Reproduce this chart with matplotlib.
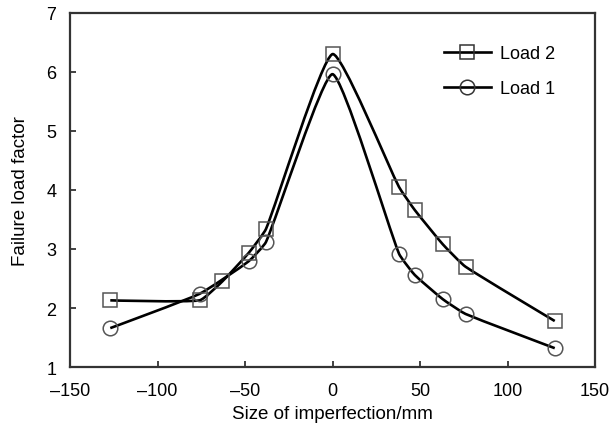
import numpy as np
import matplotlib
matplotlib.use("Agg")
import matplotlib.pyplot as plt
from matplotlib.path import Path
from matplotlib.patches import PathPatch
from matplotlib.lines import Line2D

plt.rcParams['font.family'] = ['Liberation Sans', 'DejaVu Sans']

# данные
x_load2 = [-127, -76, -63, -48, -38, 0, 38, 47, 63, 76, 127]
y_load2 = [2.13, 2.13, 2.45, 2.93, 3.34, 6.30, 4.05, 3.66, 3.08, 2.70, 1.78]

x_load1 = [-127, -76, -48, -38, 0, 38, 47, 63, 76, 127]
y_load1 = [1.66, 2.24, 2.79, 3.12, 5.96, 2.92, 2.56, 2.15, 1.90, 1.32]

xticks = [-150, -100, -50, 0, 50, 100, 150]
yticks = [1, 2, 3, 4, 5, 6, 7]


# сглаженная линия через точки, считается в пикселях, чтобы пик оставался острым
def smooth_path(ax, xs, ys, t=0.15):
    pts = ax.transData.transform(np.column_stack([xs, ys]))
    n = len(pts)
    d = np.linalg.norm(np.diff(pts, axis=0), axis=1)
    verts = [pts[0]]
    codes = [Path.MOVETO]
    for i in range(n - 1):
        p1, p2 = pts[i], pts[i + 1]
        if i > 0:
            m1 = (pts[i + 1] - pts[i - 1]) * d[i] / (d[i - 1] + d[i])
        else:
            m1 = np.zeros(2)
        if i + 2 < n:
            m2 = (pts[i + 2] - pts[i]) * d[i] / (d[i] + d[i + 1])
        else:
            m2 = np.zeros(2)
        verts += [p1 + t * m1, p2 - t * m2, p2]
        codes += [Path.CURVE4] * 3
    verts = ax.transData.inverted().transform(np.array(verts))
    return Path(verts, codes)


fig = plt.figure(figsize=(6.09, 4.31), dpi=100)
ax = fig.add_axes([0.115, 0.146, 0.862, 0.822])
ax.set_xlim(-150, 150)
ax.set_ylim(1, 7)

for xs, ys in [(x_load2, y_load2), (x_load1, y_load1)]:
    ax.add_patch(PathPatch(smooth_path(ax, xs, ys), facecolor='none',
                           edgecolor='black', lw=1.9, zorder=2))

ax.plot(x_load2, y_load2, ls='none', marker='s', ms=10.5, mfc='none',
        mec='#555555', mew=1.1, zorder=3)
ax.plot(x_load1, y_load1, ls='none', marker='o', ms=10.5, mfc='none',
        mec='#555555', mew=1.1, zorder=3)

handles = [
    Line2D([], [], color='black', lw=1.9, marker='s', ms=10.5, mfc='none',
           mec='#333333', mew=1.1, label='Load 2'),
    Line2D([], [], color='black', lw=1.9, marker='o', ms=10.5, mfc='none',
           mec='#333333', mew=1.1, label='Load 1'),
]
ax.legend(handles=handles, loc='upper right', frameon=False, fontsize=13,
          handlelength=2.6, labelspacing=1.0, handletextpad=0.5,
          bbox_to_anchor=(0.955, 0.955))

ax.set_xticks(xticks)
ax.set_yticks(yticks)
ax.set_xticklabels(['\u2013150', '\u2013100', '\u201350', '0', '50', '100', '150'])
ax.tick_params(direction='in', length=4, width=1.3, labelsize=13,
               colors='#333333', labelcolor='black')
ax.tick_params(axis='x', pad=11)
ax.tick_params(axis='y', pad=10)
for s in ax.spines.values():
    s.set_linewidth(1.6)
    s.set_color('#333333')

ax.set_xlabel('Size of imperfection/mm', fontsize=13.5, labelpad=4)
ax.set_ylabel('Failure load factor', fontsize=13.5, labelpad=12)

fig.savefig('out.png', dpi=100)
